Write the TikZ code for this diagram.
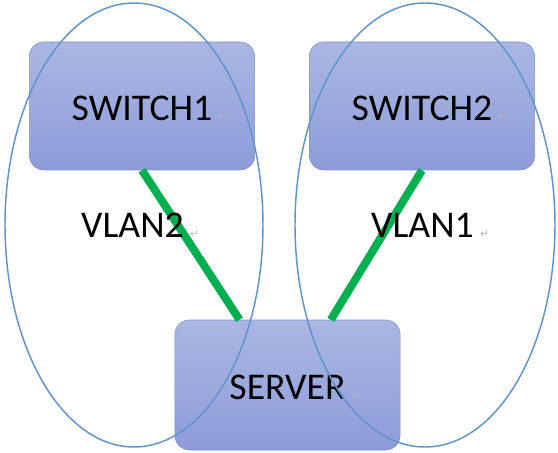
\documentclass[tikz,border=0pt]{standalone}
\usepackage{fontspec}
\setmainfont{Carlito}
\newfontfamily\retfont{DejaVu Sans}
\usepackage{tikz}
\usetikzlibrary{positioning,calc}
\definecolor{boxtop}{HTML}{AAB7E4}
\definecolor{boxbot}{HTML}{8D9CD8}
\definecolor{boxline}{HTML}{7F8FCB}
\definecolor{vlanblue}{HTML}{5F93CC}
\definecolor{linkgreen}{HTML}{00B050}
\newcommand{\retmark}{\rlap{\,\retfont\fontsize{8pt}{8pt}\selectfont\textcolor{gray!55}{↵}}}
\tikzstyle{devbox}=[rectangle, rounded corners=11pt, draw=boxline, top color=boxtop, bottom color=boxbot, minimum width=169pt, minimum height=96pt, inner sep=0pt, text height=21.5pt, text depth=0pt, font=\fontsize{28.3pt}{30pt}\selectfont]
\tikzstyle{vlanlink}=[draw=linkgreen, line width=6pt]
\tikzstyle{vlanring}=[draw=vlanblue, line width=1.1pt]
\tikzstyle{vlanlabel}=[inner sep=0pt, font=\fontsize{28.3pt}{30pt}\selectfont]

\begin{document}
\begin{tikzpicture}[x=0.75pt, y=-0.75pt]
				\useasboundingbox(0,0)rectangle(558,453);
				\node[devbox](SW1)at(142,106){SWITCH1\retmark};
				\node[devbox](SW2)at(422,106){SWITCH2\retmark};
				\node[devbox, minimum height=97.5pt](SRV)at(287.5,385){SERVER\retmark};
				\draw[vlanlink](SW1.south)--([xshift=-36pt]SRV.north);
				\draw[vlanlink](SW2.south)--([xshift=32.5pt]SRV.north);
				\draw[vlanring](134,225)ellipse(129 and 222);
				\draw[vlanring](425,225)ellipse(130 and 222);
				\node[vlanlabel](V2)at(132.5,225){VLAN2\retmark};
				\node[vlanlabel](V1)at(422.5,225){VLAN1\retmark};
			\end{tikzpicture}
\end{document}
